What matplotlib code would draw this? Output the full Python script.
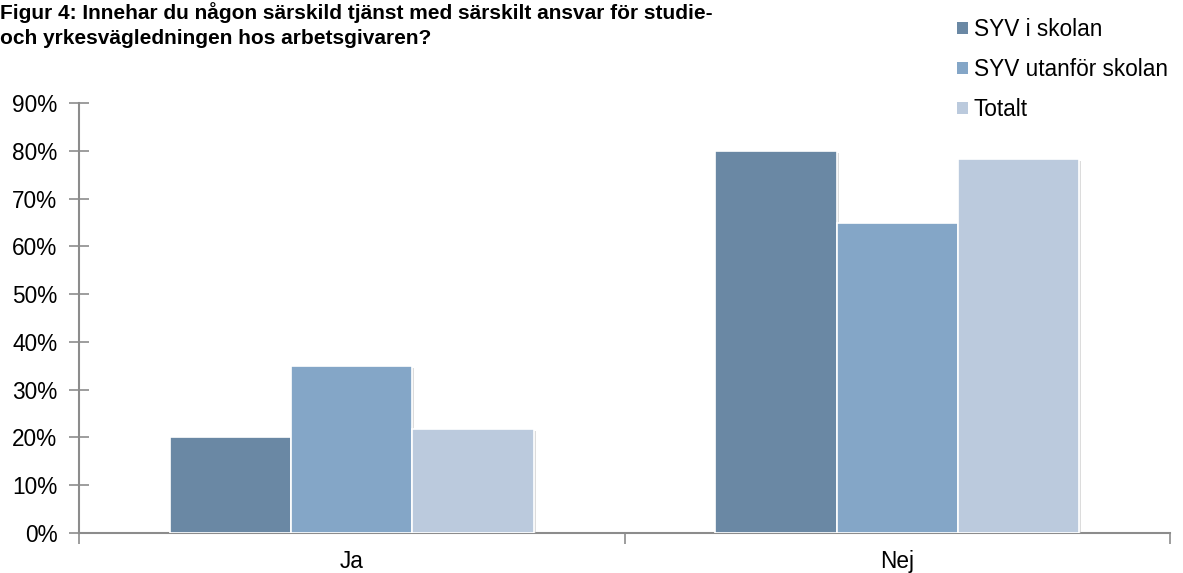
import matplotlib
matplotlib.use("Agg")
import matplotlib.pyplot as plt
import matplotlib.patheffects as pe
from matplotlib.patches import Patch
import numpy as np

plt.rcParams['font.family'] = ['Liberation Sans', 'DejaVu Sans']

categories = ["Ja", "Nej"]
series_names = ["SYV i skolan", "SYV utanför skolan", "Totalt"]
syv_i_skolan = [0.20, 0.80]
syv_utanfor = [0.35, 0.65]
totalt = [0.217, 0.783]
yticks = [0, 0.1, 0.2, 0.3, 0.4, 0.5, 0.6, 0.7, 0.8, 0.9]
ytick_labels = ["0%", "10%", "20%", "30%", "40%", "50%", "60%", "70%", "80%", "90%"]
title = "Figur 4: Innehar du någon särskild tjänst med särskilt ansvar för studie-\noch yrkesvägledningen hos arbetsgivaren?"

colors = ["#6A88A4", "#84A6C7", "#BBCADD"]
axis_color = "#8C8C8C"
fs = 16.3

fig = plt.figure(figsize=(11.83, 5.73), dpi=100)
ax = fig.add_axes([0.0668, 0.0698, 0.9222, 0.7502])

x = np.arange(len(categories))
w = 1 / 4.5
shadow = [pe.SimplePatchShadow(offset=(1.5, -1.5), shadow_rgbFace="#BBBBBB", alpha=0.5), pe.Normal()]
for i, vals in enumerate([syv_i_skolan, syv_utanfor, totalt]):
    bars = ax.bar(x + (i - 1) * w, vals, width=w, color=colors[i], edgecolor="white",
                  linewidth=1.2, label=series_names[i], zorder=3)
    for b in bars:
        b.set_path_effects(shadow)

ax.set_xlim(-0.5, len(categories) - 0.5)
ax.set_ylim(0, 0.9)
ax.set_yticks(yticks)
ax.set_yticklabels(ytick_labels, fontsize=fs)
ax.set_xticks(x)
ax.set_xticklabels(categories, fontsize=fs)
ax.set_xticks(np.arange(-0.5, len(categories)), minor=True)
ax.tick_params(axis='x', which='major', length=0, pad=12)
ax.tick_params(axis='x', which='minor', length=8, width=1.2, color=axis_color, direction='out')
ax.tick_params(axis='y', which='major', length=14, width=1.2, color=axis_color, direction='inout', pad=8.5)

for s in ["top", "right"]:
    ax.spines[s].set_visible(False)
for s in ["left", "bottom"]:
    ax.spines[s].set_color(axis_color)
    ax.spines[s].set_linewidth(1.5)

fig.text(0.0, 0.997, title, fontsize=15, fontweight='bold', ha='left', va='top', linespacing=1.45)

handles = [Patch(facecolor=c, edgecolor='none') for c in colors]
leg = fig.legend(handles, series_names, loc='upper left', bbox_to_anchor=(0.794, 1.0),
                 frameon=False, fontsize=fs, handlelength=0.48, handleheight=0.48,
                 handletextpad=0.25, labelspacing=0.75, borderaxespad=0.4)

fig.savefig("out.png", dpi=100)
